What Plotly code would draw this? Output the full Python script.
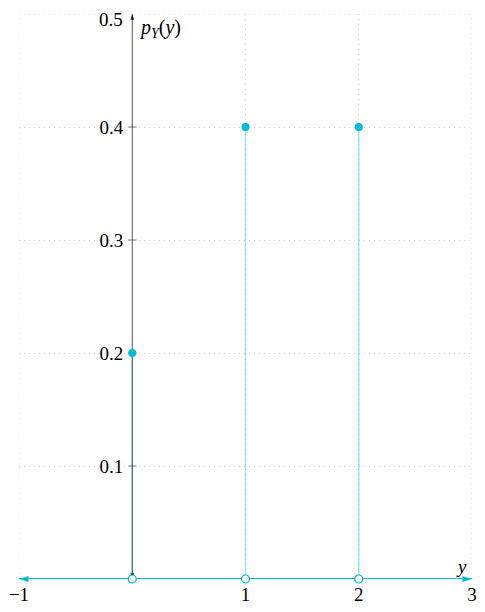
import plotly.graph_objects as go

# Data
y_values = [0, 1, 2]
probabilities = [0.2, 0.4, 0.4]
x_tick_vals = [-1, 1, 2, 3]
x_tick_text = ["\u22121", "1", "2", "3"]
y_tick_vals = [0.1, 0.2, 0.3, 0.4]
y_tick_text = ["0.1", "0.2", "0.3", "0.4"]
y_top_label = "0.5"
x_range = [-1, 3]
y_range = [0, 0.5]

CYAN = "#00bcd4"
STEM = "rgba(0,188,212,0.38)"
GRID = "#d6d6d6"
FONT = "Liberation Serif, DejaVu Serif, serif"
FS = 19

fig = go.Figure()

# Stems
for xv, pv in zip(y_values, probabilities):
    fig.add_trace(go.Scatter(x=[xv, xv], y=[0, pv], mode="lines",
                             line=dict(color=STEM, width=1.5),
                             hoverinfo="skip", showlegend=False, cliponaxis=False))

# Vertical axis line at x=0
fig.add_trace(go.Scatter(x=[0, 0], y=y_range, mode="lines",
                         line=dict(color="rgba(0,0,0,0.75)", width=0.9),
                         hoverinfo="skip", showlegend=False, cliponaxis=False))
# y tick marks
fig.add_trace(go.Scatter(x=[0] * len(y_tick_vals), y=y_tick_vals, mode="markers",
                         marker=dict(symbol="line-ew", size=6,
                                     line=dict(color="rgba(0,0,0,0.6)", width=0.8)),
                         hoverinfo="skip", showlegend=False, cliponaxis=False))
# vertical axis arrowheads
fig.add_trace(go.Scatter(x=[0, 0], y=y_range[::-1], mode="markers",
                         marker=dict(symbol="arrow", size=6, angle=[0, 180],
                                     color="rgba(0,0,0,0.8)", line=dict(width=0)),
                         hoverinfo="skip", showlegend=False, cliponaxis=False))

# Horizontal cyan line at y=0
fig.add_trace(go.Scatter(x=x_range, y=[0, 0], mode="lines",
                         line=dict(color=CYAN, width=2),
                         hoverinfo="skip", showlegend=False, cliponaxis=False))
fig.add_trace(go.Scatter(x=x_range, y=[0, 0], mode="markers",
                         marker=dict(symbol="arrow", size=10, angle=[270, 90],
                                     color=CYAN, line=dict(width=0)),
                         hoverinfo="skip", showlegend=False, cliponaxis=False))

# Filled points
fig.add_trace(go.Scatter(x=y_values, y=probabilities, mode="markers",
                         marker=dict(color=CYAN, size=8, line=dict(width=0)),
                         showlegend=False, cliponaxis=False))
# Open points
fig.add_trace(go.Scatter(x=y_values, y=[0] * len(y_values), mode="markers",
                         marker=dict(color="white", size=8, line=dict(color=CYAN, width=1.2)),
                         showlegend=False, cliponaxis=False))

# Edge grid lines (plotly omits grid lines on the plot edges)
shapes = [
    dict(type="line", xref="x", yref="y", x0=x_range[0], x1=x_range[1], y0=y_range[1], y1=y_range[1],
         line=dict(color=GRID, width=1, dash="1px,4px"), layer="below"),
    dict(type="line", xref="x", yref="y", x0=x_range[0], x1=x_range[0], y0=y_range[0], y1=y_range[1],
         line=dict(color=GRID, width=1, dash="1px,4px"), layer="below"),
    dict(type="line", xref="x", yref="y", x0=x_range[1], x1=x_range[1], y0=y_range[0], y1=y_range[1],
         line=dict(color=GRID, width=1, dash="1px,4px"), layer="below"),
]

annotations = [
    dict(x=0, y=y_range[1], xref="x", yref="y", text=y_top_label,
         showarrow=False, xanchor="right", yanchor="top", xshift=-8, yshift=6,
         borderpad=0, font=dict(family=FONT, size=FS, color="black")),
    dict(x=0, y=0.5, xref="x", yref="y", text="<i>p</i><sub><i>Y</i></sub>(<i>y</i>)",
         showarrow=False, xanchor="left", yanchor="top", xshift=5, yshift=0,
         font=dict(family=FONT, size=20, color="black")),
    dict(x=3, y=0, xref="x", yref="y", text="<i>y</i>",
         showarrow=False, xanchor="right", yanchor="bottom", xshift=-3, yshift=0,
         font=dict(family=FONT, size=FS, color="black")),
]

fig.update_layout(
    width=485, height=612,
    margin=dict(l=11, r=21, t=6, b=41, autoexpand=False),
    paper_bgcolor="white", plot_bgcolor="white",
    showlegend=False,
    shapes=shapes,
    annotations=annotations,
    font=dict(family=FONT, size=FS, color="black"),
    xaxis=dict(range=x_range, tickvals=x_tick_vals, ticktext=x_tick_text,
               showgrid=True, gridcolor=GRID, griddash="1px,4px", gridwidth=1,
               zeroline=False, showline=False, ticks="", ticklabelstandoff=2,
               automargin=False, ticklabeloverflow="allow",
               tickfont=dict(family=FONT, size=FS)),
    yaxis=dict(range=y_range, tickvals=y_tick_vals, ticktext=y_tick_text,
               showgrid=True, gridcolor=GRID, griddash="1px,4px", gridwidth=1,
               zeroline=False, showline=False, ticks="",
               anchor="free", position=0.25, ticklabelstandoff=9,
               automargin=False, ticklabeloverflow="allow",
               tickfont=dict(family=FONT, size=FS)),
)

fig.write_html("out.html")
